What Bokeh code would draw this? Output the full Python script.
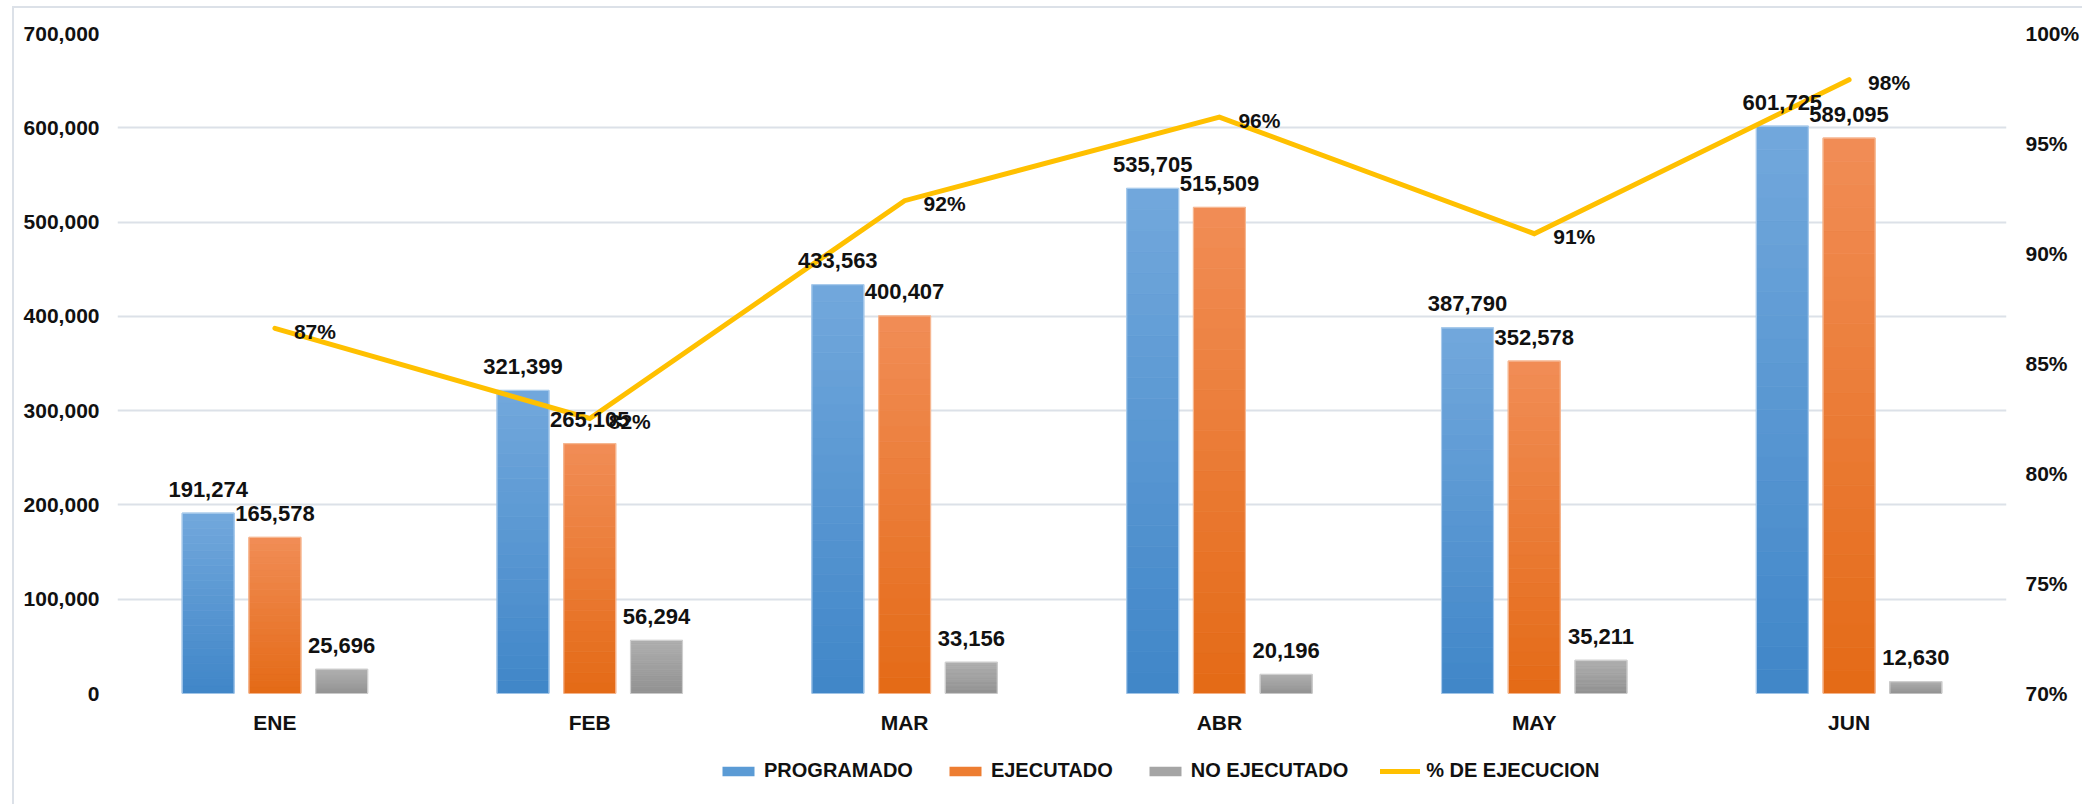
from bokeh.plotting import figure
from bokeh.layouts import column
from bokeh.models import (ColumnDataSource, FactorRange, Range1d, LinearAxis, FixedTicker,
                          NumeralTickFormatter, Legend, LegendItem)
from bokeh.transform import dodge
from bokeh.core.properties import value
from bokeh.embed import file_html
from bokeh.resources import INLINE

# ---------------- data ----------------
months = ["ENE", "FEB", "MAR", "ABR", "MAY", "JUN"]
programado = [191274, 321399, 433563, 535705, 387790, 601725]
ejecutado = [165578, 265105, 400407, 515509, 352578, 589095]
no_ejecutado = [25696, 56294, 33156, 20196, 35211, 12630]
pct_ejecucion = [0.866, 0.825, 0.924, 0.962, 0.909, 0.979]
left_ticks = [0, 100000, 200000, 300000, 400000, 500000, 600000, 700000]
right_ticks = [0.70, 0.75, 0.80, 0.85, 0.90, 0.95, 1.00]
series_names = ["PROGRAMADO", "EJECUTADO", "NO EJECUTADO"]
line_name = "% DE EJECUCION"

# ---------------- style ----------------
FONT = "Liberation Sans"
TXT = "#111111"
GRID = "#DCE1E8"
BAR_W = 0.165
OFFSETS = [-0.212, 0.0, 0.212]
TOP_COLORS = [(114, 168, 220), (241, 141, 86), (174, 174, 174)]
BOT_COLORS = [(64, 134, 200), (228, 106, 22), (145, 145, 145)]
EDGE_COLORS = ["#A9CBEC", "#F6B791", "#CFCFCF"]
MID_COLORS = ["#5B9BD5", "#ED7D31", "#A5A5A5"]
LINE_COLOR = "#FFC000"

W = 2082
H_MAIN = 752
H_LEG = 52
FRAME_L, FRAME_R, FRAME_T, FRAME_B = 117, 2007, 33, 693

p = figure(x_range=FactorRange(*months), y_range=Range1d(0, 700000),
           width=W, height=H_MAIN, output_backend="svg", toolbar_location=None,
           min_border_left=FRAME_L, min_border_right=W - FRAME_R, min_border_top=FRAME_T,
           min_border_bottom=H_MAIN - FRAME_B)
p.extra_y_ranges = {"pct": Range1d(0.70, 1.00)}
p.outline_line_color = None
p.background_fill_color = None
p.border_fill_color = None
p.styles = {"box-shadow": "inset 12px 6px 0 0 #ffffff, inset 14px 8px 0 0 #DCE1E8",
            "background-color": "#ffffff"}

# axes
p.yaxis.ticker = FixedTicker(ticks=left_ticks)
p.yaxis.formatter = NumeralTickFormatter(format="0,0")
for ax in [p.yaxis[0], p.xaxis[0]]:
    ax.axis_line_color = None
    ax.major_tick_line_color = None
    ax.minor_tick_line_color = None
    ax.major_tick_out = 0
    ax.major_tick_in = 0
    ax.major_label_text_font = FONT
    ax.major_label_text_font_style = "bold"
    ax.major_label_text_color = TXT
p.yaxis.major_label_text_font_size = "21px"
p.yaxis.major_label_standoff = 18
p.xaxis.major_label_text_font_size = "21px"
p.xaxis.major_label_standoff = 17

raxis = LinearAxis(y_range_name="pct", ticker=FixedTicker(ticks=right_ticks),
                   formatter=NumeralTickFormatter(format="0%"))
raxis.axis_line_color = None
raxis.major_tick_line_color = None
raxis.minor_tick_line_color = None
raxis.major_tick_out = 0
raxis.major_tick_in = 0
raxis.major_label_text_font = FONT
raxis.major_label_text_font_style = "bold"
raxis.major_label_text_font_size = "21px"
raxis.major_label_text_color = TXT
raxis.major_label_standoff = 19
p.add_layout(raxis, "right")

p.xgrid.grid_line_color = None
p.ygrid.ticker = FixedTicker(ticks=left_ticks)
p.ygrid.grid_line_color = GRID
p.ygrid.grid_line_width = 2


def lerp(c1, c2, t):
    return "#%02x%02x%02x" % tuple(int(round(a + (b - a) * t)) for a, b in zip(c1, c2))


# ---------------- bars (vertical gradient) ----------------
N = 24
all_series = [programado, ejecutado, no_ejecutado]
for vals, off, ctop, cbot, edge in zip(all_series, OFFSETS, TOP_COLORS, BOT_COLORS, EDGE_COLORS):
    xs, bots, tops, cols = [], [], [], []
    for k in range(N):
        t = (k + 0.5) / N
        for m, v in zip(months, vals):
            xs.append(m)
            bots.append(v * k / N)
            tops.append(v * (k + 1) / N)
            cols.append(lerp(cbot, ctop, t))
    src = ColumnDataSource(dict(x=xs, bottom=bots, top=tops, color=cols))
    p.vbar(x=dodge("x", off, range=p.x_range), bottom="bottom", top="top", width=BAR_W,
           fill_color="color", line_color="color", line_width=0.8, source=src)
    osrc = ColumnDataSource(dict(x=months, top=vals))
    p.vbar(x=dodge("x", off, range=p.x_range), top="top", width=BAR_W,
           fill_color=None, line_color=edge, line_width=1.2, source=osrc)

# ---------------- line ----------------
lsrc = ColumnDataSource(dict(x=months, pct=pct_ejecucion,
                             lab=["{:.0%}".format(v) for v in pct_ejecucion]))
p.line(x="x", y="pct", y_range_name="pct", source=lsrc, line_color=LINE_COLOR,
       line_width=5, line_join="miter", line_cap="round")

# ---------------- labels ----------------
for vals, off in zip(all_series, OFFSETS):
    tsrc = ColumnDataSource(dict(x=months, top=vals, lab=["{:,}".format(v) for v in vals]))
    p.text(x=dodge("x", off, range=p.x_range), y="top", text="lab", source=tsrc,
           text_align="center", text_baseline="alphabetic", y_offset=-24,
           text_font=value(FONT), text_font_size="22px", text_font_style="bold",
           text_color=TXT)

p.text(x="x", y="pct", text="lab", y_range_name="pct", source=lsrc,
       text_align="left", text_baseline="middle", x_offset=19, y_offset=3,
       text_font=value(FONT), text_font_size="21px", text_font_style="bold",
       text_color=TXT)

# ---------------- legend (separate strip below) ----------------
lf = figure(width=W, height=H_LEG, output_backend="svg", toolbar_location=None,
            x_range=Range1d(0, 1), y_range=Range1d(0, 1),
            x_axis_type=None, y_axis_type=None,
            min_border_left=0, min_border_right=0, min_border_top=0, min_border_bottom=0)
lf.outline_line_color = None
lf.xgrid.grid_line_color = None
lf.ygrid.grid_line_color = None
lf.background_fill_color = None
lf.border_fill_color = None
lf.styles = {"box-shadow": "inset 12px 0 0 0 #ffffff, inset 14px 0 0 0 #DCE1E8",
             "background-color": "#ffffff"}

# zero-height, off-range proxies: they only supply the legend swatches
proxies = [lf.vbar(x=[-5], bottom=[-5], top=[-5], width=0.1, fill_color=c, line_color=None)
           for c in MID_COLORS]
lproxy = lf.line(x=[-6, -5], y=[-5, -5], line_color=LINE_COLOR, line_width=5, line_cap="round")
items = [LegendItem(label=n, renderers=[r]) for n, r in zip(series_names, proxies)]
items.append(LegendItem(label=line_name, renderers=[lproxy]))
legend = Legend(items=items, orientation="horizontal", location=(718 - FRAME_L, 22),
                glyph_width=40, glyph_height=12, label_standoff=6, spacing=32,
                padding=0, margin=0, border_line_color=None, background_fill_alpha=0,
                label_text_font=FONT, label_text_font_style="bold",
                label_text_font_size="20px", label_text_color=TXT)
lf.add_layout(legend, "center")

layout = column(p, lf, spacing=0)
open("out.html", "w").write(file_html(layout, INLINE))
